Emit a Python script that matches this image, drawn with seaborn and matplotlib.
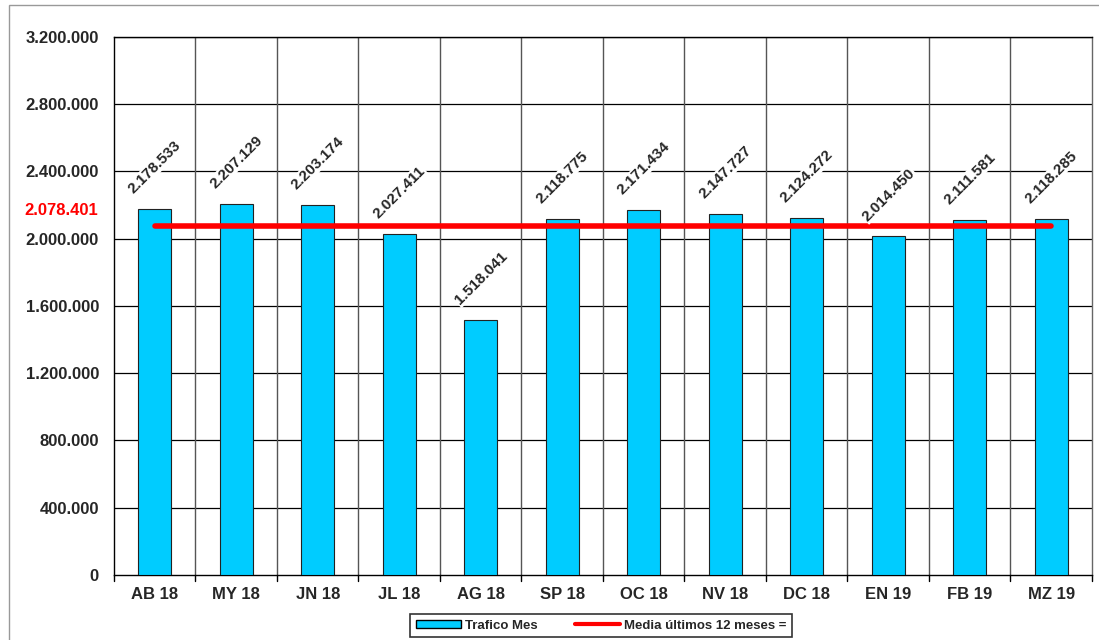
import matplotlib
matplotlib.use("Agg")
import matplotlib.pyplot as plt
import matplotlib.transforms as mtransforms
import pandas as pd
import seaborn as sns
from matplotlib.lines import Line2D
from matplotlib.patches import Patch, Rectangle

# data
months = ["AB 18", "MY 18", "JN 18", "JL 18", "AG 18", "SP 18",
          "OC 18", "NV 18", "DC 18", "EN 19", "FB 19", "MZ 19"]
traffic = [2178533, 2207129, 2203174, 2027411, 1518041, 2118775,
           2171434, 2147727, 2124272, 2014450, 2111581, 2118285]
mean_12 = 2078401
y_ticks = [0, 400000, 800000, 1200000, 1600000, 2000000,
           2400000, 2800000, 3200000]


def fmt(v):
    return "{:,}".format(v).replace(",", ".")


sns.set_style("white")
plt.rcParams["font.family"] = ["Liberation Sans", "DejaVu Sans"]
plt.rcParams["font.weight"] = "bold"

df = pd.DataFrame({"mes": months, "trafico": traffic})

fig = plt.figure(figsize=(10.99, 6.40), dpi=100)
ax = fig.add_axes([0.1037, 0.1016, 0.8899, 0.8406])

bar_color = "#00CCFF"
sns.barplot(data=df, x="mes", y="trafico", color=bar_color, saturation=1,
            width=0.4, edgecolor="#222222", linewidth=0.8, ax=ax, zorder=3)

# mean line from first to last bar centre
ax.plot([0, len(months) - 1], [mean_12, mean_12], color="#FF0000",
        linewidth=4, solid_capstyle="round", zorder=4)

ax.set_xlim(-0.5, len(months) - 0.5)
ax.set_ylim(0, 3200000)
ax.set_yticks(y_ticks)
ax.set_yticklabels([fmt(t) for t in y_ticks], fontsize=12, fontweight="bold")
ax.set_xticks(range(len(months)))
ax.set_xticklabels(months, fontsize=12, fontweight="bold")
ax.tick_params(axis="x", length=0, pad=9)
ax.tick_params(axis="y", length=4.3, width=1, direction="out", color="black",
               pad=6.5)

# grid: horizontal at y ticks, vertical at category boundaries
for t in y_ticks[1:]:
    ax.axhline(t, color="black", linewidth=0.9, zorder=1)
for b in range(1, len(months)):
    ax.axvline(b - 0.5, color="#555555", linewidth=1, zorder=1)
# small tick marks below the x axis at boundaries
for b in range(len(months) + 1):
    ax.plot([b - 0.5, b - 0.5], [0, -0.011], color="black", linewidth=1,
            transform=mtransforms.blended_transform_factory(ax.transData, ax.transAxes),
            clip_on=False)

for s in ax.spines.values():
    s.set_color("black")
    s.set_linewidth(1)
ax.spines["right"].set_color("#666666")

ax.set_xlabel("")
ax.set_ylabel("")

# rotated value labels above bars
for i, v in enumerate(traffic):
    ax.annotate(fmt(v), (i, v), xytext=(0, 30), textcoords="offset points",
                rotation=45, ha="center", va="center", fontsize=11,
                fontweight="bold", zorder=5,
                bbox=dict(facecolor="white", edgecolor="none", pad=0.5))

# red mean label next to the y axis
ax.annotate(fmt(mean_12), (0, mean_12), xytext=(-11.5, 11),
            textcoords="offset points", color="#FF0000", fontsize=12,
            fontweight="bold", ha="right", va="center",
            xycoords=mtransforms.blended_transform_factory(ax.transAxes, ax.transData))

handles = [Patch(facecolor=bar_color, edgecolor="black", label="Trafico Mes"),
           Line2D([0], [0], color="#FF0000", linewidth=3,
                  label="Media últimos 12 meses =")]
leg = fig.legend(handles=handles, loc="lower center", ncol=2,
                 bbox_to_anchor=(0.547, 0.004), fontsize=9.5, frameon=True,
                 fancybox=False, edgecolor="black", borderpad=0.45,
                 handlelength=3.4, handleheight=0.6, handletextpad=0.3,
                 columnspacing=2.8, borderaxespad=0)
leg.get_frame().set_linewidth(1.2)
for t in leg.get_texts():
    t.set_fontweight("bold")

# thin grey border of the chart area
fig.patches.append(Rectangle((9 / 1099, -0.01), 1.2, 1 - 5 / 640 + 0.01,
                             transform=fig.transFigure, fill=False,
                             edgecolor="#999999", linewidth=1))

fig.savefig("out.png", dpi=100)
